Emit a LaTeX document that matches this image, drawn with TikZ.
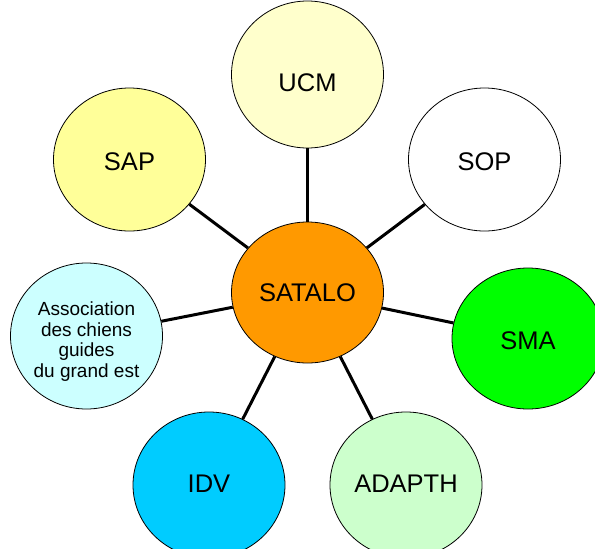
\documentclass[tikz,border=0pt]{standalone}
\usepackage{fontspec}
\setmainfont{Liberation Sans}
\usetikzlibrary{shapes.geometric}
\definecolor{cUCM}{HTML}{FFFFCC}
\definecolor{cSAP}{HTML}{FFFF99}
\definecolor{cSMA}{HTML}{00FF00}
\definecolor{cASSO}{HTML}{CCFFFF}
\definecolor{cIDV}{HTML}{00CCFF}
\definecolor{cADA}{HTML}{CCFFCC}
\definecolor{cSAT}{HTML}{FF9900}
\tikzset{
  bubble/.style={ellipse, draw=black, line width=0.8pt, inner sep=0pt,
    minimum width=152pt, minimum height=146pt,
    font=\fontsize{25.5}{29}\selectfont, text=black},
  link/.style={line width=3pt, black}
}
\begin{document}
\begin{tikzpicture}[x=1pt,y=-1pt]
\useasboundingbox (0,0) rectangle (595,549);
\begin{scope}
\clip (0,0) rectangle (595,549);
\coordinate (c) at (307.5,292.5);
\node[bubble, fill=cUCM, minimum height=147pt, text height=34pt, text depth=0pt] (ucm) at (307.5,74.5) {UCM};
\node[bubble, fill=cSAP, minimum height=143pt, text height=21.3pt, text depth=0pt] (sap) at (129.5,159.5) {SAP};
\node[bubble, fill=white, minimum height=143pt, text height=21.3pt, text depth=0pt] (sop) at (484.5,159.5) {SOP};
\node[bubble, fill=cSMA, minimum height=141pt, text height=21.3pt, text depth=0pt] (sma) at (528,338.5) {SMA};
\node[bubble, fill=cASSO, font=\fontsize{19}{20.7}\selectfont, align=center] (asso) at (86.5,336) {\rule{0pt}{25pt}Association\\des chiens\\guides\\du grand est};
\node[bubble, fill=cIDV, text height=18.3pt, text depth=4pt] (idv) at (209,485) {IDV};
\node[bubble, fill=cADA, text height=18.3pt, text depth=4pt] (adapth) at (406,485) {ADAPTH};
\node[bubble, fill=cSAT, minimum height=141pt] (satalo) at (c) {SATALO};
\foreach \n in {ucm,sap,sop,sma,asso,idv,adapth}
  \draw[link] (satalo) -- (\n);
\end{scope}
\end{tikzpicture}
\end{document}
